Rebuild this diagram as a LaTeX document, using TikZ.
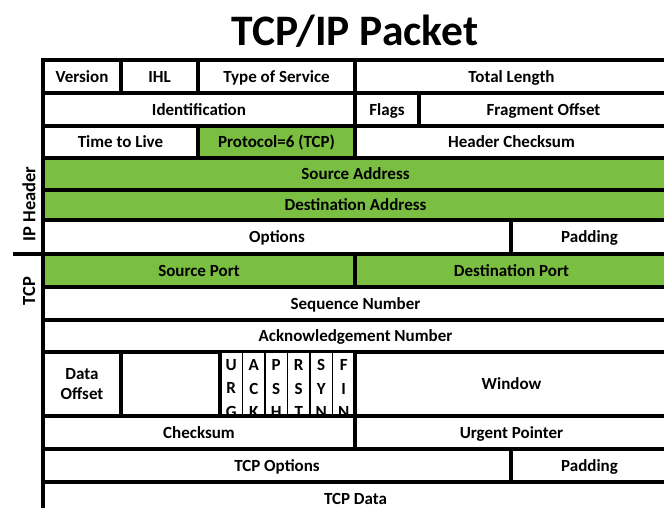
\documentclass[tikz,border=0pt]{standalone}
\usepackage{fontspec}
\setmainfont{Carlito}
\definecolor{fieldgreen}{RGB}{122,190,66}
\newcommand\cellfont{\fontsize{17}{20}\selectfont\bfseries}
\tikzset{
  cellbase/.style={draw=black, line width=3.4pt, rectangle, inner sep=0pt, outer sep=0pt, font=\cellfont},
  cell/.style={cellbase, text height=13pt, text depth=2pt},
  flagbox/.style={draw=black, line width=1.5pt, rectangle, inner sep=0pt, outer sep=0pt},
  flagtext/.style={inner sep=0pt, align=center, font={\fontsize{17}{23.3}\selectfont\bfseries}},
  sidelabel/.style={inner sep=0pt, rotate=90, font={\fontsize{18.5}{20}\selectfont\bfseries}},
  rule/.style={draw=black, line width=3.4pt}
}
% \pcell[fill]{name}{x1}{y1}{x2}{y2}{text}: one header field, corners in px
\newcommand\pcell[7][white]{%
  \node[cell, fill=#1, minimum width={#5-#3}, minimum height={#6-#4}] (#2)
    at ({(#3+#5)/2},{(#4+#6)/2}) {#7};}
% \flagbit{name}{x1}{letters}: one TCP control bit column
\newcommand\flagbit[3]{%
  \node[flagbox, fill=white, minimum width=22.5, minimum height=64] (#1)
    at ({#2+11.25},384) {};
  \node[flagtext] (#1txt) at ({#2+11.25},388.5) {#3};}
\begin{document}
\begin{tikzpicture}[x=1pt, y=-1pt]
\useasboundingbox (0,0) rectangle (664,507);
\clip (0,0) rectangle (664,507);

\node[anchor=base, inner sep=0pt, font={\fontsize{43.5}{50}\selectfont\bfseries}] (title) at (355,45) {TCP/IP Packet};

% IP header
\pcell{ver}{43}{60}{121}{93}{Version}
\pcell{ihl}{121}{60}{198}{93}{IHL}
\pcell{tos}{198}{60}{355}{93}{Type of Service}
\pcell{tlen}{355}{60}{668}{93}{Total Length}
\pcell{ident}{43}{93}{355}{126}{Identification}
\pcell{ipflags}{355}{93}{419}{126}{Flags}
\pcell{fragoff}{419}{93}{668}{126}{Fragment Offset}
\pcell{ttl}{43}{126}{198}{158}{Time to Live}
\pcell[fieldgreen]{proto}{198}{126}{355}{158}{Protocol=6 (TCP)}
\pcell{hcsum}{355}{126}{668}{158}{Header Checksum}
\pcell[fieldgreen]{srcaddr}{43}{158}{668}{190}{Source Address}
\pcell[fieldgreen]{dstaddr}{43}{190}{668}{220}{Destination Address}
\pcell{ipopt}{43}{220}{511}{254}{Options}
\pcell{ippad}{511}{220}{668}{254}{Padding}

% TCP header
\pcell[fieldgreen]{sport}{43}{254}{355}{287}{Source Port}
\pcell[fieldgreen]{dport}{355}{254}{668}{287}{Destination Port}
\pcell{seq}{43}{287}{668}{320}{Sequence Number}
\pcell{ack}{43}{320}{668}{352}{Acknowledgement Number}
\node[cellbase, fill=white, align=center, minimum width=78, minimum height=64,
      font={\fontsize{17}{20}\selectfont\bfseries}] (doff) at (82,384) {Data\\Offset};
\pcell{reserved}{121}{352}{220}{416}{}
\pcell{window}{355}{352}{668}{416}{Window}
\flagbit{urg}{220}{U\\R\\G}
\flagbit{ackf}{242.5}{A\\C\\K}
\flagbit{psh}{265}{P\\S\\H}
\flagbit{rst}{287.5}{R\\S\\T}
\flagbit{syn}{310}{S\\Y\\N}
\flagbit{fin}{332.5}{F\\I\\N}
\draw[rule] (reserved.north east) -- (reserved.south east);
\draw[rule] (window.north west) -- (window.south west);
\pcell{tcsum}{43}{416}{355}{449}{Checksum}
\pcell{urgp}{355}{416}{668}{449}{Urgent Pointer}
\pcell{topt}{43}{449}{511}{482}{TCP Options}
\pcell{tpad}{511}{449}{668}{482}{Padding}
\pcell{tdata}{43}{482}{668}{515}{TCP Data}

% section labels on the left
\node[sidelabel] (iplabel) at (29,204) {IP Header};
\node[sidelabel] (tcplabel) at (29,291) {TCP};
\coordinate (sepstart) at (13,254);
\draw[rule] (sepstart) -- (sepstart -| sport.west);
\end{tikzpicture}
\end{document}
